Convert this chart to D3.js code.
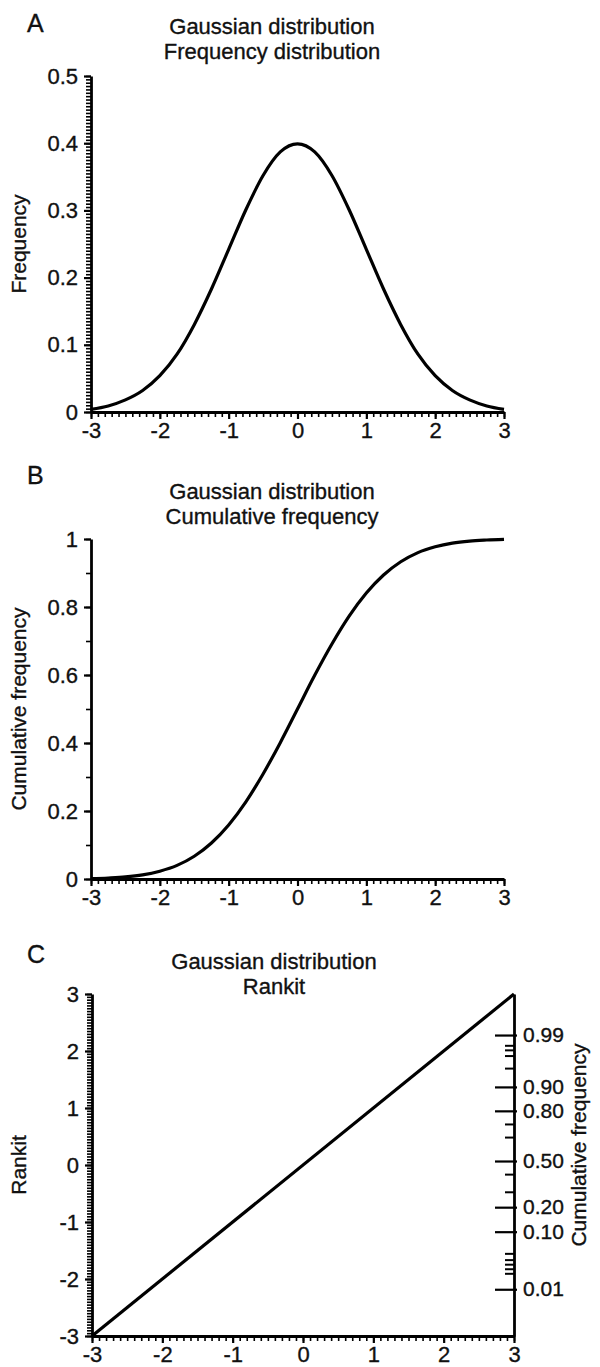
<!DOCTYPE html>
<html>
<head>
<meta charset="utf-8">
<script src="https://cdn.jsdelivr.net/npm/d3@7"></script>
<style>
  body { margin: 0; background: #fff; }
  svg { display: block; font-family: "Liberation Sans", Arial, sans-serif; }
  svg text { fill: #111; stroke: #111; stroke-width: 0.35px; }
  .axis path, .axis line { stroke: #000; }
  .axis text { font-size: 22px; }
  .prob text { font-size: 21px; }
</style>
</head>
<body>
<div id="chart"></div>
<script>
// values
var xGrid = [-3, -2.75, -2.5, -2.25, -2, -1.75, -1.5, -1.25, -1, -0.75, -0.5, -0.25, 0,
             0.25, 0.5, 0.75, 1, 1.25, 1.5, 1.75, 2, 2.25, 2.5, 2.75, 3];
var freqValues = [0.004, 0.009, 0.018, 0.032, 0.054, 0.086, 0.130, 0.183, 0.242, 0.301, 0.352, 0.387, 0.399,
                  0.387, 0.352, 0.301, 0.242, 0.183, 0.130, 0.086, 0.054, 0.032, 0.018, 0.009, 0.004];
var cumValues = [0.001, 0.003, 0.006, 0.012, 0.023, 0.040, 0.067, 0.106, 0.159, 0.227, 0.309, 0.401, 0.500,
                 0.599, 0.691, 0.773, 0.841, 0.894, 0.933, 0.960, 0.977, 0.988, 0.994, 0.997, 0.999];
var rankitX = [-3, 3];
var rankitY = [-3, 3];

var xTicks = [-3, -2, -1, 0, 1, 2, 3];
var freqTicks = [0, 0.1, 0.2, 0.3, 0.4, 0.5];
var cumTicks = [0, 0.2, 0.4, 0.6, 0.8, 1];
var rankitTicks = [-3, -2, -1, 0, 1, 2, 3];

// right-hand probability scale of panel C (label, position in rankit units)
var probLabels = ["0.99", "0.90", "0.80", "0.50", "0.20", "0.10", "0.01"];
var probPos = [2.28, 1.37, 0.95, 0.07, -0.74, -1.17, -2.18];
var probMinorPos = [2.1, 2.02, 1.92, 1.7, 0.72, 0.49, -0.16, -0.47, -1.55, -1.66, -1.74, -1.82, -1.9];

var svg = d3.select('#chart').append('svg')
    .attr('width', 600)
    .attr('height', 1367)
    .style('background', '#fff');

function fmt(d) { return d < 0 ? '-' + Math.abs(d) : String(d); }

function drawPanel(opt) {
    var x = d3.scaleLinear().domain([-3, 3]).range([opt.left, opt.right]);
    var y = d3.scaleLinear().domain(opt.yDomain).range([opt.bottom, opt.top]);

    // letter and title
    svg.append('text').attr('x', 27).attr('y', opt.letterY)
        .style('font-size', '25px').text(opt.letter);
    svg.append('text').attr('x', opt.titleX).attr('y', opt.titleY)
        .attr('text-anchor', 'middle').style('font-size', '22px').text('Gaussian distribution');
    svg.append('text').attr('x', opt.titleX).attr('y', opt.titleY + 25)
        .attr('text-anchor', 'middle').style('font-size', '22px').text(opt.subtitle);

    // x axis: minor then major
    svg.append('g').attr('class', 'axis')
        .attr('transform', 'translate(0,' + opt.bottom + ')')
        .call(d3.axisBottom(x).tickValues(d3.range(-30, 31).map(function(d) { return d / 10; }))
            .tickSize(5).tickSizeOuter(0).tickFormat(''))
        .call(function(g) { g.selectAll('line').attr('stroke-width', 1.6); g.select('.domain').remove(); });
    svg.append('g').attr('class', 'axis')
        .attr('transform', 'translate(0,' + opt.bottom + ')')
        .call(d3.axisBottom(x).tickValues(xTicks).tickSize(7).tickSizeOuter(0).tickPadding(3).tickFormat(fmt))
        .call(function(g) {
            g.selectAll('line').attr('stroke-width', 2.2);
            g.select('.domain').attr('stroke-width', 2.8);
        });

    // y axis: minor then major
    svg.append('g').attr('class', 'axis')
        .attr('transform', 'translate(' + opt.left + ',0)')
        .call(d3.axisLeft(y).tickValues(opt.yMinor).tickSize(5).tickSizeOuter(0).tickFormat(''))
        .call(function(g) { g.selectAll('line').attr('stroke-width', 1.6); g.select('.domain').remove(); });
    svg.append('g').attr('class', 'axis')
        .attr('transform', 'translate(' + opt.left + ',0)')
        .call(d3.axisLeft(y).tickValues(opt.yTicks).tickSize(7).tickSizeOuter(0).tickPadding(6).tickFormat(fmt))
        .call(function(g) {
            g.selectAll('line').attr('stroke-width', 2.2);
            g.select('.domain').attr('stroke-width', 2.8);
        });

    // y label
    svg.append('text')
        .attr('transform', 'translate(' + opt.yLabelX + ',' + ((opt.top + opt.bottom) / 2) + ') rotate(-90)')
        .attr('text-anchor', 'middle').style('font-size', '21px').text(opt.yLabel);

    // the curve
    var pts = opt.xs.map(function(d, i) { return [d, opt.ys[i]]; });
    svg.append('path')
        .datum(pts)
        .attr('fill', 'none')
        .attr('stroke', '#000')
        .attr('stroke-width', 3.2)
        .attr('d', d3.line()
            .x(function(d) { return x(d[0]); })
            .y(function(d) { return y(d[1]); })
            .curve(d3.curveMonotoneX));

    return { x: x, y: y };
}

drawPanel({
    letter: 'A', letterY: 32, titleX: 272, titleY: 34, subtitle: 'Frequency distribution',
    left: 91, right: 504, top: 76, bottom: 412,
    yDomain: [0, 0.5], yTicks: freqTicks,
    yMinor: d3.range(0, 101).map(function(d) { return d / 200; }),
    yLabel: 'Frequency', yLabelX: 26,
    xs: xGrid, ys: freqValues
});

drawPanel({
    letter: 'B', letterY: 484, titleX: 272, titleY: 499, subtitle: 'Cumulative frequency',
    left: 91, right: 504, top: 539, bottom: 879,
    yDomain: [0, 1], yTicks: cumTicks,
    yMinor: d3.range(0, 11).map(function(d) { return d / 10; }),
    yLabel: 'Cumulative frequency', yLabelX: 26,
    xs: xGrid, ys: cumValues
});

var c = drawPanel({
    letter: 'C', letterY: 963, titleX: 274, titleY: 969, subtitle: 'Rankit',
    left: 92, right: 514, top: 994, bottom: 1336,
    yDomain: [-3, 3], yTicks: rankitTicks,
    yMinor: d3.range(-60, 61).map(function(d) { return d / 20; }),
    yLabel: 'Rankit', yLabelX: 26,
    xs: rankitX, ys: rankitY
});

// right probability axis on panel C
var yProb = c.y;
svg.append('g').attr('class', 'axis')
    .attr('transform', 'translate(514,0)')
    .call(d3.axisRight(yProb).tickValues(probMinorPos).tickSize(0).tickFormat(''))
    .call(function(g) {
        g.select('.domain').remove();
        g.selectAll('line').attr('x1', -9).attr('x2', 0).attr('stroke-width', 2);
    });
svg.append('g').attr('class', 'axis prob')
    .attr('transform', 'translate(514,0)')
    .call(d3.axisRight(yProb).tickValues(probPos).tickSize(3).tickSizeOuter(0).tickPadding(6)
        .tickFormat(function(d, i) { return probLabels[i]; }))
    .call(function(g) {
        g.select('.domain').attr('stroke-width', 2.8);
        g.selectAll('line').attr('x1', -19).attr('stroke-width', 2.2);
    });

svg.append('text')
    .attr('transform', 'translate(586,' + yProb(0.35) + ') rotate(-90)')
    .attr('text-anchor', 'middle').style('font-size', '21px').text('Cumulative frequency');
</script>
</body>
</html>
